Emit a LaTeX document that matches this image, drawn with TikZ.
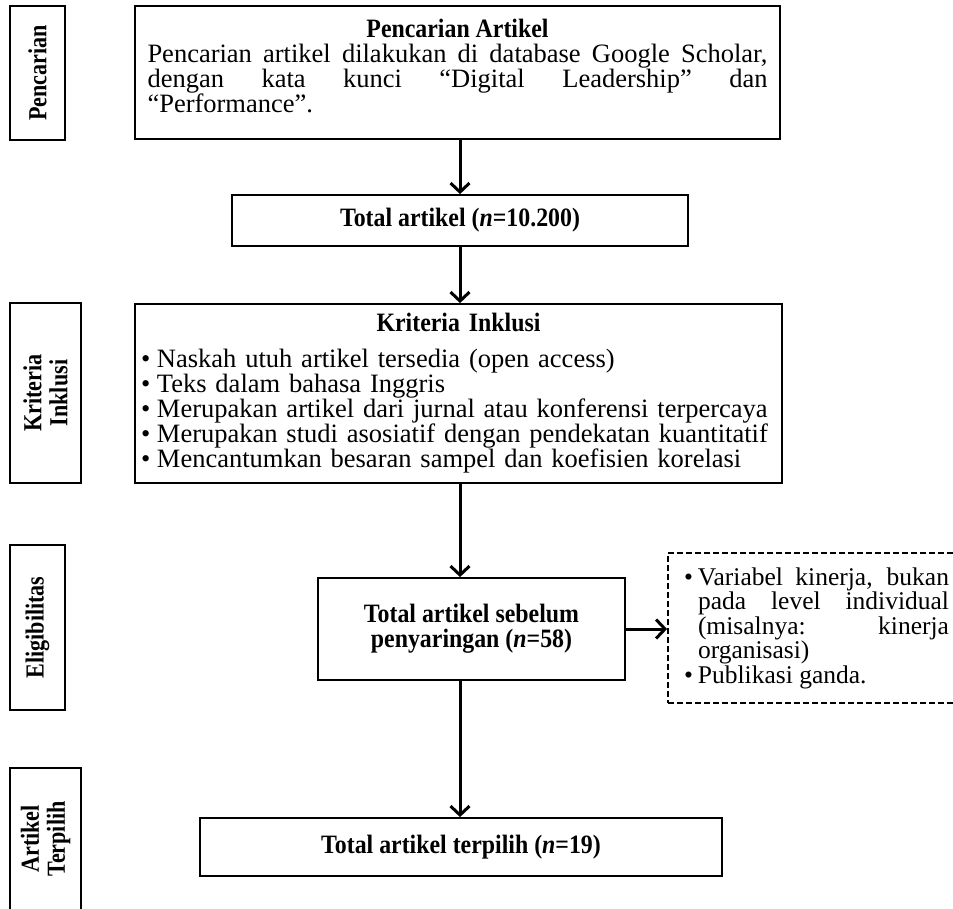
\documentclass[tikz,border=0pt]{standalone}
\usepackage{fontspec}
\setmainfont{Liberation Serif}[BoldFeatures={FakeStretch=0.9},BoldItalicFeatures={FakeStretch=0.9}]
\newfontfamily\lblfont[FakeStretch=0.85]{Liberation Serif}
\usetikzlibrary{arrows.meta,positioning}
\tikzstyle{kotak}=[draw, line width=1.8pt, inner sep=0pt, align=center, font=\fontsize{26.5}{25}\selectfont]
\tikzstyle{sisi}=[draw, line width=1.8pt, inner sep=0pt, rotate=90, align=center, font=\lblfont\bfseries\fontsize{26}{26}\selectfont]
\tikzstyle{panah}=[-{Straight Barb[length=9pt,width=19pt]}, line width=3pt]
\newcommand{\butir}[1]{\makebox[#1][l]{\textbullet}}

\begin{document}
\begin{tikzpicture}[x=1pt,y=-1pt]
\useasboundingbox (0,0) rectangle (953,908);
\clip (0,0) rectangle (953,908);

% tahap
\node (sCari) [sisi, minimum width=134pt, minimum height=55pt] at (37.5,73) {Pencarian};
\node (sKrit) [sisi, minimum width=180pt, minimum height=71pt] at (45.5,393) {Kriteria\\Inklusi};
\node (sElig) [sisi, minimum width=165pt, minimum height=55pt] at (37.5,627.5) {Eligibilitas};
\node (sPilih) [sisi, minimum width=142pt, minimum height=71pt] at (45.5,839) {Artikel\\Terpilih};

% alur
\node (cari) [kotak, text width=620pt, inner xsep=12.5pt, minimum height=133pt, align=justify] at (457.5,72.5)
  {{\centering\textbf{Pencarian Artikel}\par}
   Pencarian artikel dilakukan di database Google Scholar,\linebreak dengan kata kunci ``Digital Leadership'' dan\linebreak ``Performance''.\par\vspace{-12pt}\mbox{}};
\node (jumlah) [kotak, minimum width=456pt, minimum height=51pt] at (460,220.5) {\textbf{Total artikel (\textit{n}=10.200)}};
\node (kriteria) [kotak, text width=635pt, inner xsep=6pt, minimum height=179pt, align=left] at (458.5,393.5)
  {{\centering\textbf{Kriteria Inklusi}\par}\vspace{11pt}
   \butir{16pt}Naskah utuh artikel tersedia (open access)\\
   \butir{16pt}Teks dalam bahasa Inggris\\
   \butir{16pt}Merupakan artikel dari jurnal atau konferensi terpercaya\\
   \butir{16pt}Merupakan studi asosiatif dengan pendekatan kuantitatif\\
   \butir{16pt}Mencantumkan besaran sampel dan koefisien korelasi};
\node (sebelum) [kotak, minimum width=307pt, minimum height=102pt] at (471.5,629) {\textbf{Total artikel sebelum}\\\textbf{penyaringan (\textit{n}=58)}};
\node (eksklusi) [kotak, dash pattern=on 6pt off 3pt, text width=265pt, inner xsep=16pt, minimum height=150pt, align=justify, font=\fontsize{25.5}{24.5}\selectfont] at (816.5,628)
  {\hangindent=14pt\hangafter=1 \butir{14pt}Variabel kinerja, bukan\linebreak pada level individual\linebreak (misalnya: kinerja\linebreak organisasi)\par
   \hangindent=14pt\hangafter=1 \butir{14pt}Publikasi ganda.};
\node (terpilih) [kotak, minimum width=522pt, minimum height=58pt] at (461,847) {\textbf{Total artikel terpilih (\textit{n}=19)}};

\draw[panah] (jumlah.north |- cari.south) -- (jumlah.north);
\draw[panah] (jumlah.south) -- (jumlah.south |- kriteria.north);
\draw[panah] (jumlah.south |- kriteria.south) -- (jumlah.south |- sebelum.north);
\draw[panah] (sebelum.east) -- (sebelum.east -| eksklusi.west);
\draw[panah] (jumlah.south |- sebelum.south) -- (jumlah.south |- terpilih.north);

\end{tikzpicture}
\end{document}
